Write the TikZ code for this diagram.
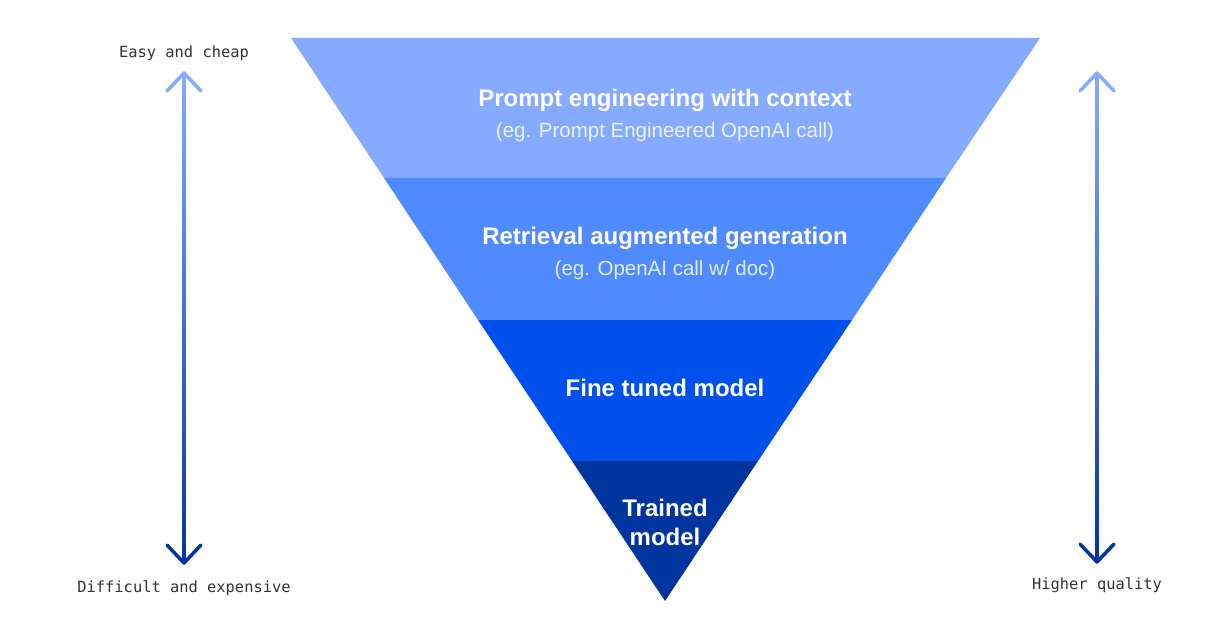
\documentclass[tikz,border=0pt]{standalone}
\usepackage{fontspec}
\setmainfont{Liberation Sans}
\setmonofont{DejaVu Sans Mono}
\usetikzlibrary{calc}
\definecolor{bandone}{HTML}{85AAFF}
\definecolor{bandtwo}{HTML}{508AFF}
\definecolor{bandthree}{HTML}{0050EB}
\definecolor{bandfour}{HTML}{00359F}
\definecolor{labelgray}{HTML}{333333}
\tikzset{
  bandtitle/.style={text=white,font=\bfseries\fontsize{24}{29}\selectfont,align=center},
  bandsub/.style={text=white,text opacity=0.85,font=\fontsize{20.5}{24}\selectfont},
  sidelabel/.style={text=labelgray,font=\ttfamily\fontsize{15.4}{18}\selectfont},
  barb/.style={line width=3.5pt,line cap=round,line join=round},
}
\begin{document}
\begin{tikzpicture}[x=1pt,y=-1pt]
  \useasboundingbox[fill=white] (0,0) rectangle (1225,620);
  \coordinate (tl) at (291,38);
  \coordinate (tr) at (1040,38);
  \coordinate (l1) at (384,178);
  \coordinate (r1) at (946,178);
  \coordinate (l2) at (478,320);
  \coordinate (r2) at (852,320);
  \coordinate (l3) at (572,461);
  \coordinate (r3) at (758,461);
  \coordinate (apex) at (665,601);
  \fill[bandone] (tl) -- (tr) -- (r1) -- (l1) -- cycle;
  \fill[bandtwo] (l1) -- (r1) -- (r2) -- (l2) -- cycle;
  \fill[bandthree] (l2) -- (r2) -- (r3) -- (l3) -- cycle;
  \fill[bandfour] (l3) -- (r3) -- (apex) -- cycle;
  \draw
    (665,100) node[bandtitle] (prompt){Prompt engineering with context}
    (665,132) node[bandsub] (promptsub){(eg. Prompt Engineered OpenAI call)}
    (665,238) node[bandtitle] (rag){Retrieval augmented generation}
    (665,270) node[bandsub] (ragsub){(eg. OpenAI call w/ doc)}
    (665,388) node[bandtitle] (fine){Fine tuned model}
    (665,522) node[bandtitle] (trained){Trained\\model};
  % side arrows
  \coordinate (costtop) at (184,73);
  \coordinate (costbot) at (184,563);
  \coordinate (qualtop) at (1097,73);
  \coordinate (qualbot) at (1097,562);
  \foreach \a/\b in {costtop/costbot,qualtop/qualbot}{
    \shade[top color=bandone,middle color=bandtwo!80!bandthree,bottom color=bandfour]
      ($(\a)+(-1.75,0)$) rectangle ($(\b)+(1.75,0)$);
    \draw[barb,bandone] ($(\a)+(-17,18)$) -- (\a) -- ($(\a)+(17,18)$);
    \draw[barb,bandfour] ($(\b)+(-17,-18)$) -- (\b) -- ($(\b)+(17,-18)$);
  }
  \draw
    (184,53) node[sidelabel] (easy){Easy and cheap}
    (184,588) node[sidelabel] (hard){Difficult and expensive}
    (1097,585) node[sidelabel] (quality){Higher quality};
\end{tikzpicture}
\end{document}
